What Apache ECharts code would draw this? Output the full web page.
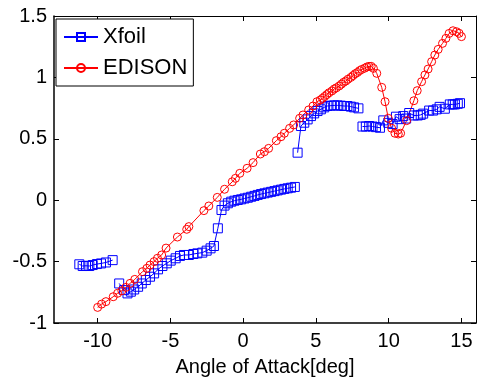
<!DOCTYPE html>
<html>
<head>
<meta charset="utf-8">
<script src="https://cdn.jsdelivr.net/npm/echarts@6/dist/echarts.min.js"></script>
<style>
html,body{margin:0;padding:0;background:#fff;}
#chart{width:484px;height:385px;}
</style>
</head>
<body>
<div id="chart"></div>
<script>
// ---- Data (null = break in the Xfoil curve) ----
const xfoilAoA = [
  -11.26,-11.03,-10.8,-10.57,-10.34,-10.05,-9.77,-9.43,-8.97, null,
  -8.52,-8.18,-7.95,-7.72,-7.49,-7.22,-6.97,-6.69,-6.4,-6.12,-5.85,-5.55,-5.25,-4.98,-4.64,-4.34,-4.07,-3.73,-3.42,-3.15,-2.81,-2.51,-2.24,-2.01,-1.74,-1.49,-1.28,-1.05,-0.82,-0.6,-0.37,-0.14,0.09,0.32,0.55,0.78,1.0,1.23,1.46,1.69,1.92,2.15,2.37,2.6,2.83,3.06,3.29,3.55, null,
  3.74,3.97,4.2,4.43,4.66,4.88,5.11,5.34,5.57,5.79,6.03,6.25,6.48,6.71,6.94,7.16,7.4,7.62,7.92, null,
  8.2,8.43,8.66,8.89,9.13,9.4,9.63,9.97,10.27,10.5,10.75,11.0,11.2,11.41,11.73,12.0,12.2,12.37,12.78,13.05,13.3,13.5,13.86,14.2,14.4,14.55,14.75,14.9
];
const xfoilCl = [
  -0.522,-0.536,-0.534,-0.536,-0.528,-0.52,-0.515,-0.507,-0.488, null,
  -0.678,-0.732,-0.759,-0.745,-0.727,-0.705,-0.678,-0.65,-0.623,-0.596,-0.563,-0.536,-0.514,-0.492,-0.473,-0.454,-0.446,-0.446,-0.438,-0.433,-0.427,-0.411,-0.392,-0.373,-0.229,-0.08,-0.044,-0.025,-0.012,-0.004,0.002,0.007,0.014,0.02,0.028,0.035,0.043,0.05,0.056,0.062,0.068,0.074,0.08,0.086,0.092,0.097,0.102,0.108, null,
  0.387,0.604,0.631,0.658,0.685,0.707,0.726,0.74,0.756,0.767,0.77,0.772,0.772,0.77,0.767,0.767,0.762,0.756,0.748, null,
  0.60,0.60,0.604,0.60,0.595,0.59,0.65,0.63,0.62,0.68,0.66,0.685,0.665,0.71,0.69,0.69,0.695,0.705,0.73,0.73,0.74,0.76,0.745,0.78,0.78,0.78,0.785,0.79
];
const edisonAoA = [
  -10.0,-9.73,-9.43,-8.93,-8.63,-8.34,-8.06,-7.77,-7.45,-6.92,-6.62,-6.4,-6.12,-5.89,-5.6,-5.3,-4.52,-3.88,-3.73,-2.7,-2.36,-1.78,-1.28,-0.75,-0.53,-0.23,0.27,0.68,1.18,1.46,1.75,2.28,2.6,2.83,3.19,3.47,3.88,4.11,4.5,4.8,5.07,5.3,
  5.45,5.6,5.75,5.9,6.1,6.25,6.4,6.6,6.75,6.9,7.05,7.2,7.4,7.55,7.7,7.85,8.0,8.15,8.35,8.5,8.65,8.8,
  8.95,9.18,9.52,9.75,9.97,10.2,10.43,10.66,10.82,11.23,11.73,11.96,12.26,12.49,12.71,12.95,13.17,13.4,13.7,13.93,14.15,14.42,14.66,14.84,15.0
];
const edisonCl = [
  -0.873,-0.846,-0.826,-0.786,-0.758,-0.737,-0.71,-0.677,-0.645,-0.582,-0.555,-0.528,-0.5,-0.473,-0.446,-0.39,-0.3,-0.237,-0.215,-0.085,-0.047,0.023,0.089,0.15,0.178,0.219,0.26,0.306,0.376,0.395,0.422,0.485,0.517,0.545,0.585,0.613,0.667,0.694,0.735,0.767,0.802,0.816,
  0.83,0.845,0.86,0.875,0.89,0.905,0.915,0.93,0.945,0.96,0.97,0.985,1.0,1.015,1.03,1.04,1.055,1.065,1.075,1.085,1.09,1.09,
  1.074,1.033,0.919,0.802,0.667,0.586,0.545,0.539,0.545,0.648,0.81,0.892,0.965,1.02,1.068,1.128,1.182,1.228,1.277,1.318,1.358,1.38,1.372,1.359,1.332
];
const xTicks = [-10, -5, 0, 5, 10, 15];
const xLabel = 'Angle of Attack[deg]';
const seriesNames = ['Xfoil', 'EDISON'];

function pairs(xs, ys) {
  return xs.map((x, i) => (x === null || ys[i] === null) ? '-' : [x, ys[i]]);
}

const FONT = 'Arial, "Liberation Sans", sans-serif';
const chart = echarts.init(document.getElementById('chart'), null, {renderer: 'canvas'});

const tickCommon = {show: true, inside: true, length: 5, lineStyle: {color: '#000', width: 1}};
const lineCommon = {show: true, onZero: false, lineStyle: {color: '#000', width: 1}};

chart.setOption({
  animation: false,
  backgroundColor: '#fff',
  grid: {left: 54, right: 8, top: 16, bottom: 62, containLabel: false},
  legend: {
    orient: 'vertical',
    left: 56, top: 19,
    padding: [7, 6, 7, 7],
    itemGap: 9,
    itemWidth: 34,
    itemHeight: 10,
    borderColor: '#000',
    borderWidth: 1,
    backgroundColor: '#fff',
    textStyle: {fontFamily: FONT, fontSize: 22, color: '#000', lineHeight: 22},
    data: seriesNames
  },
  xAxis: [{
    type: 'value', min: -13, max: 16, position: 'bottom',
    axisLine: {show: true, onZero: false, lineStyle: {color: '#000', width: 1.5}},
    axisTick: Object.assign({}, tickCommon, {customValues: xTicks}),
    axisLabel: {customValues: xTicks, fontFamily: FONT, fontSize: 20, color: '#000', margin: 8},
    splitLine: {show: false},
    name: xLabel, nameLocation: 'middle', nameGap: 34,
    nameTextStyle: {fontFamily: FONT, fontSize: 20, color: '#000'}
  }, {
    type: 'value', min: -13, max: 16, position: 'top',
    axisLine: lineCommon,
    axisTick: Object.assign({}, tickCommon, {customValues: xTicks}),
    axisLabel: {show: false},
    splitLine: {show: false}
  }],
  yAxis: [{
    type: 'value', min: -1, max: 1.5, interval: 0.5, position: 'left',
    axisLine: {show: true, onZero: false, lineStyle: {color: '#000', width: 1.5}},
    axisTick: tickCommon,
    axisLabel: {fontFamily: FONT, fontSize: 20, color: '#000', margin: 7},
    splitLine: {show: false}
  }, {
    type: 'value', min: -1, max: 1.5, interval: 0.5, position: 'right',
    axisLine: lineCommon,
    axisTick: tickCommon,
    axisLabel: {show: false},
    splitLine: {show: false}
  }],
  series: [{
    name: seriesNames[0], type: 'line',
    data: pairs(xfoilAoA, xfoilCl),
    connectNulls: false,
    symbol: 'rect', symbolSize: 9,
    lineStyle: {color: '#0000ff', width: 1},
    itemStyle: {color: 'rgba(0,0,0,0)', borderColor: '#0000ff', borderWidth: 1},
    emphasis: {disabled: true}
  }, {
    name: seriesNames[1], type: 'line',
    data: pairs(edisonAoA, edisonCl),
    symbol: 'circle', symbolSize: 8,
    lineStyle: {color: '#ff0000', width: 1},
    itemStyle: {color: 'rgba(0,0,0,0)', borderColor: '#ff0000', borderWidth: 1},
    emphasis: {disabled: true}
  }]
});
</script>
</body>
</html>
